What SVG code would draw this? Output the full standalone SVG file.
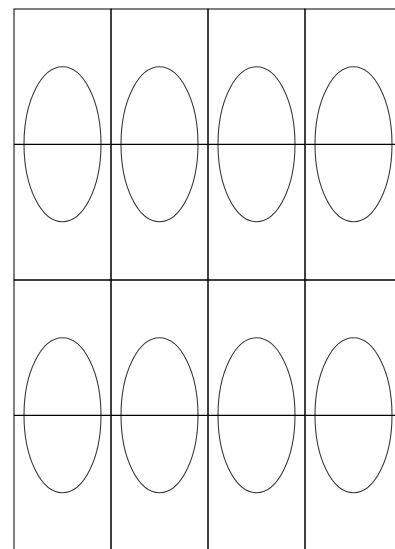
<svg xmlns="http://www.w3.org/2000/svg" width="395" height="549" viewBox="0 0 395 549">
<style>
.cell{fill:none;stroke:#000;stroke-width:1}
.mid{stroke:#000;stroke-width:1.3}
.ov{fill:none;stroke:#3a3a3a;stroke-width:1.1}
</style>
<defs>
<g id="unit">
<rect class="cell" x="0" y="0" width="97" height="271"/>
<ellipse class="ov" cx="48.5" cy="135.3" rx="38.5" ry="77.5"/>
<line class="mid" x1="0" y1="135.3" x2="97" y2="135.3"/>
</g>
</defs>
<rect width="395" height="549" fill="#fff"/>
<g id="cell-1-1" transform="translate(14,9)"><use href="#unit"/></g>
<g id="cell-1-2" transform="translate(111,9)"><use href="#unit"/></g>
<g id="cell-1-3" transform="translate(208,9)"><use href="#unit"/></g>
<g id="cell-1-4" transform="translate(305,9)"><use href="#unit"/></g>
<g id="cell-2-1" transform="translate(14,280)"><use href="#unit"/></g>
<g id="cell-2-2" transform="translate(111,280)"><use href="#unit"/></g>
<g id="cell-2-3" transform="translate(208,280)"><use href="#unit"/></g>
<g id="cell-2-4" transform="translate(305,280)"><use href="#unit"/></g>
<g id="connectors"></g>
</svg>
